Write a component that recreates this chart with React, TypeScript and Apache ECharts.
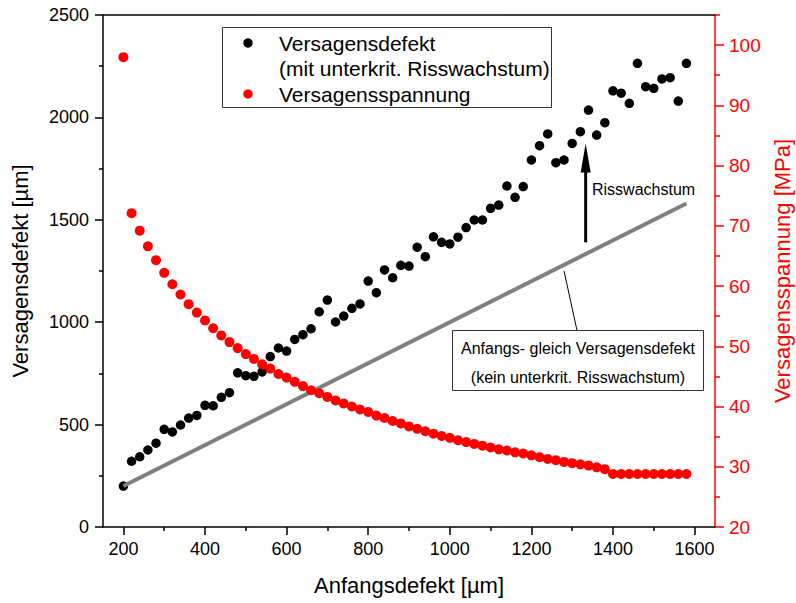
import { useEffect, useRef } from "react";
import * as echarts from "echarts";

// Initial defect size [µm]
const anfangsdefekt = [
  200, 220, 240, 260, 280, 300, 320, 340, 360, 380,
  400, 420, 440, 460, 480, 500, 520, 540, 560, 580,
  600, 620, 640, 660, 680, 700, 720, 740, 760, 780,
  800, 820, 840, 860, 880, 900, 920, 940, 960, 980,
  1000, 1020, 1040, 1060, 1080, 1100, 1120, 1140, 1160, 1180,
  1200, 1220, 1240, 1260, 1280, 1300, 1320, 1340, 1360, 1380,
  1400, 1420, 1440, 1460, 1480, 1500, 1520, 1540, 1560, 1580,
];

// Critical defect size incl. subcritical crack growth [µm]
const versagensdefekt = [
  200, 321, 343, 376, 409, 477, 464, 498, 532, 545,
  594, 592, 633, 656, 753, 739, 736, 757, 832, 874,
  859, 916, 939, 968, 1051, 1108, 1001, 1030, 1068, 1089,
  1201, 1144, 1255, 1217, 1278, 1274, 1366, 1320, 1417, 1390,
  1382, 1415, 1462, 1499, 1499, 1556, 1572, 1665, 1610, 1662,
  1792, 1862, 1919, 1779, 1792, 1873, 1930, 2036, 1914, 1974,
  2130, 2118, 2069, 2264, 2150, 2142, 2188, 2194, 2080, 2264,
];

// Failure stress [MPa]
const versagensspannung = [
  98.0, 72.1, 69.2, 66.6, 64.3, 62.2, 60.3, 58.6, 57.0, 55.6,
  54.3, 53.0, 51.8, 50.7, 49.7, 48.7, 47.9, 47.0, 46.3, 45.4,
  44.8, 44.1, 43.4, 42.7, 42.2, 41.6, 41.0, 40.5, 40.0, 39.5,
  39.1, 38.5, 38.1, 37.6, 37.2, 36.7, 36.3, 35.9, 35.5, 35.1,
  34.8, 34.4, 34.1, 33.8, 33.5, 33.2, 32.9, 32.7, 32.4, 32.2,
  31.9, 31.6, 31.3, 31.1, 30.8, 30.6, 30.4, 30.2, 29.9, 29.6,
  28.8, 28.8, 28.8, 28.8, 28.8, 28.8, 28.8, 28.8, 28.8, 28.8,
];

// Reference line: initial defect equals critical defect (no crack growth)
const gleichLinie = [
  [200, 200],
  [1580, 1580],
];

// Arrow "Risswachstum" (start / tip in data coordinates)
const pfeil = [
  [1333, 1390],
  [1333, 1873],
];

// Leader from the reference line to its annotation box
const hinweisAnker = [1280, 1280];

const xMajorTicks = [200, 400, 600, 800, 1000, 1200, 1400, 1600];
const xMinorTicks = [300, 500, 700, 900, 1100, 1300, 1500];
const rightMajorTicks = [20, 30, 40, 50, 60, 70, 80, 90, 100];
const rightMinorTicks = [25, 35, 45, 55, 65, 75, 85, 95, 105];

const FONT = "'Liberation Sans', Arial, sans-serif";
const RED = "#ff0000";
const plain = (v: number) => String(v);

export default function App() {
  const ref = useRef<HTMLDivElement>(null);

  useEffect(() => {
    if (!ref.current) return;
    const chart = echarts.init(ref.current, null, { renderer: "svg" });

    const pts = (ys: number[]) => anfangsdefekt.map((x, i) => [x, ys[i]]);

    chart.setOption({
      animation: false,
      backgroundColor: "#ffffff",
      textStyle: { fontFamily: FONT },
      grid: {
        left: 103,
        top: 15,
        right: 81,
        bottom: 76,
        containLabel: false,
        outerBoundsMode: "none",
      },
      xAxis: [
        {
          type: "value",
          position: "bottom",
          min: 150,
          max: 1650,
          name: "Anfangsdefekt [µm]",
          nameLocation: "middle",
          nameGap: 47,
          nameTextStyle: { fontSize: 22, color: "#000", fontFamily: FONT },
          axisLine: { show: true, onZero: false, lineStyle: { color: "#000", width: 1.5 } },
          axisTick: { show: true, length: 8, customValues: xMajorTicks, lineStyle: { color: "#000", width: 1.5 } },
          axisLabel: { customValues: xMajorTicks, formatter: plain, fontSize: 18, color: "#000", margin: 13, fontFamily: FONT },
          splitLine: { show: false },
        },
        {
          type: "value",
          position: "bottom",
          min: 150,
          max: 1650,
          axisLine: { show: false, onZero: false },
          axisTick: { show: true, length: 4, customValues: xMinorTicks, lineStyle: { color: "#000", width: 1.5 } },
          axisLabel: { show: false },
          splitLine: { show: false },
        },
        {
          type: "value",
          position: "top",
          min: 150,
          max: 1650,
          axisLine: { show: true, onZero: false, lineStyle: { color: "#000", width: 1.5 } },
          axisTick: { show: false },
          axisLabel: { show: false },
          splitLine: { show: false },
        },
      ],
      yAxis: [
        {
          type: "value",
          position: "left",
          min: 0,
          max: 2500,
          interval: 500,
          name: "Versagensdefekt [µm]",
          nameLocation: "middle",
          nameGap: 72,
          nameRotate: 90,
          nameTextStyle: { fontSize: 22, color: "#000", fontFamily: FONT },
          axisLine: { show: true, onZero: false, lineStyle: { color: "#000", width: 1.5 } },
          axisTick: { show: true, length: 8, lineStyle: { color: "#000", width: 1.5 } },
          minorTick: { show: true, splitNumber: 2, length: 4, lineStyle: { color: "#000", width: 1.5 } },
          axisLabel: { formatter: plain, fontSize: 18, color: "#000", margin: 14, fontFamily: FONT },
          splitLine: { show: false },
          minorSplitLine: { show: false },
        },
        {
          type: "value",
          position: "right",
          min: 20,
          max: 105,
          interval: 10,
          name: "Versagensspannung [MPa]",
          nameLocation: "middle",
          nameGap: 52,
          nameRotate: 90,
          nameTextStyle: { fontSize: 22, color: RED, fontFamily: FONT },
          axisLine: { show: true, onZero: false, lineStyle: { color: RED, width: 1.5 } },
          axisTick: { show: true, length: 9, customValues: rightMajorTicks, lineStyle: { color: RED, width: 1.5 } },
          axisLabel: { customValues: rightMajorTicks, formatter: plain, fontSize: 19, color: RED, margin: 14, fontFamily: FONT },
          splitLine: { show: false },
        },
        {
          type: "value",
          position: "right",
          min: 20,
          max: 105,
          axisLine: { show: false, onZero: false },
          axisTick: { show: true, length: 5, customValues: rightMinorTicks, lineStyle: { color: RED, width: 1.5 } },
          axisLabel: { show: false },
          splitLine: { show: false },
        },
      ],
      series: [
        {
          name: "Versagensdefekt",
          type: "scatter",
          xAxisIndex: 0,
          yAxisIndex: 0,
          symbol: "circle",
          symbolSize: 9.5,
          itemStyle: { color: "#000000", opacity: 1 },
          data: pts(versagensdefekt),
          z: 2,
        },
        {
          name: "Anfangs- gleich Versagensdefekt",
          type: "line",
          xAxisIndex: 0,
          yAxisIndex: 0,
          symbol: "none",
          lineStyle: { color: "#808080", width: 4 },
          data: gleichLinie,
          z: 3,
        },
        {
          name: "Versagensspannung",
          type: "scatter",
          xAxisIndex: 0,
          yAxisIndex: 1,
          symbol: "circle",
          symbolSize: 10,
          itemStyle: { color: RED, opacity: 1 },
          data: pts(versagensspannung),
          z: 4,
        },
      ],
    });

    const px = (p: number[]) => chart.convertToPixel({ xAxisIndex: 0, yAxisIndex: 0 }, p) as number[];
    const [a0, a1] = pfeil.map(px);
    const anker = px(hinweisAnker);
    const headLen = 29;
    const headHalf = 5;

    chart.setOption({
      graphic: [
        // legend box
        {
          type: "group",
          children: [
            {
              type: "rect",
              shape: { x: 222.5, y: 27.5, width: 329, height: 80 },
              style: { fill: "#fff", stroke: "#333", lineWidth: 1 },
            },
            { type: "circle", shape: { cx: 248, cy: 43, r: 4.75 }, style: { fill: "#000" } },
            { type: "circle", shape: { cx: 248, cy: 94, r: 4.75 }, style: { fill: RED } },
            {
              type: "text",
              x: 279,
              y: 43,
              style: { text: "Versagensdefekt", fontSize: 21, fontFamily: FONT, fill: "#000", verticalAlign: "middle" },
            },
            {
              type: "text",
              x: 279,
              y: 68,
              style: { text: "(mit unterkrit. Risswachstum)", fontSize: 21, fontFamily: FONT, fill: "#000", verticalAlign: "middle" },
            },
            {
              type: "text",
              x: 279,
              y: 94,
              style: { text: "Versagensspannung", fontSize: 21, fontFamily: FONT, fill: "#000", verticalAlign: "middle" },
            },
          ],
        },
        // crack growth arrow
        {
          type: "line",
          shape: { x1: a0[0], y1: a0[1], x2: a1[0], y2: a1[1] + headLen - 2 },
          style: { stroke: "#000", lineWidth: 3 },
          z: 10,
        },
        {
          type: "polygon",
          shape: {
            points: [
              [a1[0] - headHalf, a1[1] + headLen],
              [a1[0] + headHalf, a1[1] + headLen],
              [a1[0], a1[1]],
            ],
          },
          style: { fill: "#000" },
          z: 10,
        },
        {
          type: "text",
          x: 592,
          y: 189,
          style: { text: "Risswachstum", fontSize: 16, fontFamily: FONT, fill: "#000", verticalAlign: "middle" },
          z: 10,
        },
        // annotation of the reference line
        {
          type: "line",
          shape: { x1: anker[0], y1: anker[1] + 6, x2: 577, y2: 330.5 },
          style: { stroke: "#000", lineWidth: 1 },
          z: 10,
        },
        {
          type: "rect",
          shape: { x: 452.5, y: 330.5, width: 251, height: 60 },
          style: { fill: "#fff", stroke: "#333", lineWidth: 1 },
          z: 10,
        },
        {
          type: "text",
          x: 578,
          y: 348,
          style: { text: "Anfangs- gleich Versagensdefekt", fontSize: 16, fontFamily: FONT, fill: "#000", align: "center", verticalAlign: "middle" },
          z: 11,
        },
        {
          type: "text",
          x: 578,
          y: 377,
          style: { text: "(kein unterkrit. Risswachstum)", fontSize: 16, fontFamily: FONT, fill: "#000", align: "center", verticalAlign: "middle" },
          z: 11,
        },
      ],
    });

    return () => chart.dispose();
  }, []);

  return (
    <div
      ref={ref}
      style={{ position: "fixed", left: 0, top: 0, width: 796, height: 603, background: "#fff" }}
    />
  );
}
